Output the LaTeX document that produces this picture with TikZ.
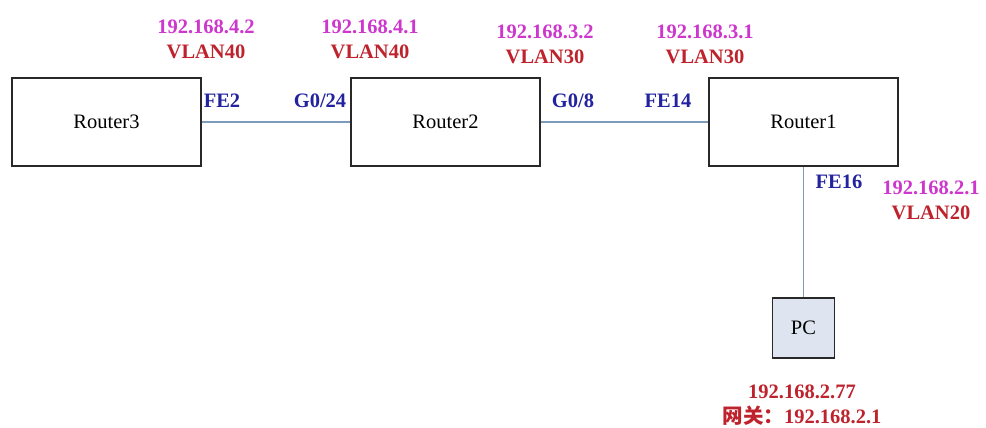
\documentclass[tikz,border=0pt]{standalone}
\usepackage{fontspec}
\setmainfont{Liberation Serif}
\newfontfamily\cjkfont{Noto Sans CJK SC}
\definecolor{ipcol}{RGB}{205,55,205}
\definecolor{vlancol}{RGB}{190,35,45}
\definecolor{portcol}{RGB}{35,35,160}
\definecolor{linkcol}{RGB}{125,155,185}
\definecolor{pcfill}{RGB}{222,229,240}
\definecolor{boxline}{RGB}{40,40,40}
\begin{document}
\begin{tikzpicture}[x=1pt,y=-1pt,
  router/.style={draw=boxline,line width=1.3pt,minimum width=189pt,minimum height=88pt,inner sep=0pt,font=\fontsize{20.5}{24}\selectfont},
  pcbox/.style={draw=boxline,line width=1.3pt,fill=pcfill,minimum width=62pt,minimum height=60pt,inner sep=0pt,font=\fontsize{20.5}{24}\selectfont},
  iplbl/.style={text=ipcol,inner sep=0pt,font=\bfseries\fontsize{20.5}{24}\selectfont},
  vlanlbl/.style={text=vlancol,inner sep=0pt,font=\bfseries\fontsize{20.5}{24}\selectfont},
  portlbl/.style={text=portcol,inner sep=0pt,font=\bfseries\fontsize{20.5}{24}\selectfont},
  link/.style={draw=linkcol,line width=1.4pt}]
\useasboundingbox (0,0) rectangle (986,428);
\node[router] (r3) at (106.5,122) {Router3};
\node[router] (r2) at (445.5,122) {Router2};
\node[router] (r1) at (803.5,122) {Router1};
\node[pcbox] (pc) at (803.5,328) {PC};
\draw[link] (r3) -- (r2);
\draw[link] (r2) -- (r1);
\draw[link] (r1.south) -- (pc.north);
% labels
\node[iplbl] (ip42) at (206,27) {192.168.4.2};
\node[vlanlbl] (v40a) at (206,52) {VLAN40};
\node[iplbl] (ip41) at (370,27) {192.168.4.1};
\node[vlanlbl] (v40b) at (370,52) {VLAN40};
\node[iplbl] (ip32) at (545,32) {192.168.3.2};
\node[vlanlbl] (v30a) at (545,57) {VLAN30};
\node[iplbl] (ip31) at (705,32) {192.168.3.1};
\node[vlanlbl] (v30b) at (705,57) {VLAN30};
\node[portlbl] (fe2) at (222,101) {FE2};
\node[portlbl] (g024) at (320,101) {G0/24};
\node[portlbl] (g08) at (573,101) {G0/8};
\node[portlbl] (fe14) at (668,101) {FE14};
\node[portlbl] (fe16) at (839,182) {FE16};
\node[iplbl] (ip21) at (931,188) {192.168.2.1};
\node[vlanlbl] (v20) at (931,213) {VLAN20};
\node[vlanlbl] (ip277) at (802,392) {192.168.2.77};
\node[vlanlbl] (gw) at (802,416) {{\cjkfont\bfseries 网关：}192.168.2.1};
\end{tikzpicture}
\end{document}
